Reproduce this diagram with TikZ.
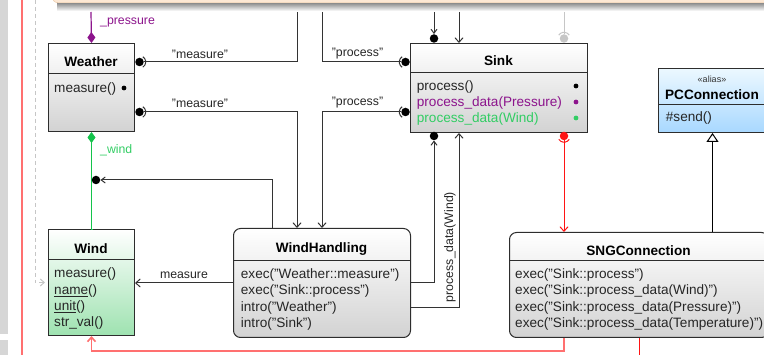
\documentclass[tikz,border=0pt]{standalone}
\usepackage{fontspec}
\setmainfont{Liberation Sans}
\usetikzlibrary{arrows.meta,calc,shapes.geometric}
\definecolor{pur}{RGB}{140,20,140}
\definecolor{grn}{RGB}{50,205,100}
\definecolor{grnline}{RGB}{20,195,75}
\definecolor{lred}{RGB}{255,112,112}
\definecolor{bred}{RGB}{255,20,20}
\definecolor{peach}{RGB}{253,232,212}
\definecolor{peachline}{RGB}{232,196,160}
\definecolor{boxline}{RGB}{45,45,45}
\definecolor{wgreen}{RGB}{158,226,176}
\definecolor{lblue}{RGB}{168,216,255}
\definecolor{tblue}{RGB}{236,248,255}
\definecolor{sidegray}{RGB}{214,214,214}
\tikzset{
  cls/.style={draw=boxline, line width=1pt, anchor=north west, inner sep=0pt, top color=white},
  divl/.style={draw=boxline, line width=1pt},
  ttl/.style={anchor=base, inner sep=0pt, font=\fontsize{13.6}{16}\selectfont\bfseries},
  mth/.style={anchor=base west, inner sep=0pt, font=\fontsize{13.6}{16}\selectfont, text=black!85},
  lbl/.style={anchor=base, inner sep=0pt, font=\fontsize{12.3}{14}\selectfont, text=black!85},
  conn/.style={draw=black!80, line width=1pt},
  arr/.style={conn, -{Straight Barb[length=4.5pt,width=8pt]}},
  ball/.style={circle, fill=black, inner sep=0pt, minimum size=8.5pt},
  sdot/.style={circle, fill, inner sep=0pt, minimum size=4.8pt},
}
\begin{document}
\begin{tikzpicture}[x=1pt,y=-1pt]
\useasboundingbox (0,0) rectangle (764,355);
% side decorations
\fill[sidegray] (0,0) rectangle (8,334);
\fill[sidegray] (0,340) rectangle (8,355);
\draw[lred, line width=1.6pt] (22,0) -- (22,355);

% top context box and shadow
\shade[top color=black!45, bottom color=white] (57,3) rectangle (764,11);
\node[draw=peachline, fill=peach, rounded corners=6pt, anchor=south west, minimum width=730pt, minimum height=30pt, inner sep=0pt] (ctx) at (52,3) {};

% ---------- classes ----------
\node[cls, bottom color=gray!35, minimum width=86pt, minimum height=88pt] (weather) at (48,43) {};
\draw[divl] ([yshift=-31pt]weather.north west) -- ([yshift=-31pt]weather.north east);
\node[ttl] (weatherT) at (91,66.9) {Weather};
\node[mth] (weatherM) at (54,92.5) {measure()};
\node[sdot] (weatherD) at (124,88) {};

\node[cls, bottom color=wgreen, minimum width=86pt, minimum height=106pt] (wind) at (48,229) {};
\draw[divl] ([yshift=-31pt]wind.north west) -- ([yshift=-31pt]wind.north east);
\node[ttl] (windT) at (91,253.2) {Wind};
\node[mth] (windM1) at (54,277.8) {measure()};
\node[mth] (windM2) at (54,294.2) {\underline{name}()};
\node[mth] (windM3) at (54,310.6) {\underline{unit}()};
\node[mth] (windM4) at (54,327.0) {str\_val()};

\node[cls, bottom color=gray!35, rounded corners=7pt, minimum width=177pt, minimum height=109pt] (windh) at (233,228) {};
\draw[divl] ([yshift=-33pt]windh.north west) -- ([yshift=-33pt]windh.north east);
\node[ttl] (windhT) at (321.5,252.2) {WindHandling};
\node[mth] (windhM1) at (240.7,278.5) {exec("Weather::measure")};
\node[mth] (windhM2) at (240.7,294.9) {exec("Sink::process")};
\node[mth] (windhM3) at (240.7,311.3) {intro("Weather")};
\node[mth] (windhM4) at (240.7,327.7) {intro("Sink")};

\node[cls, bottom color=gray!35, minimum width=177pt, minimum height=89pt] (sink) at (410,43) {};
\draw[divl] ([yshift=-30pt]sink.north west) -- ([yshift=-30pt]sink.north east);
\node[ttl] (sinkT) at (498.5,65.9) {Sink};
\node[mth] (sinkM1) at (416.7,90.5) {process()};
\node[mth, text=pur] (sinkM2) at (416.7,106.3) {process\_data(Pressure)};
\node[mth, text=grn] (sinkM3) at (416.7,122.1) {process\_data(Wind)};
\node[sdot, fill=black] (sinkD1) at (576,86) {};
\node[sdot, fill=pur] (sinkD2) at (576,102) {};
\node[sdot, fill=grn] (sinkD3) at (576,118) {};

\node[cls, bottom color=gray!35, rounded corners=7pt, minimum width=259pt, minimum height=105pt] (sng) at (509,232) {};
\draw[divl] ([yshift=-29pt]sng.north west) -- ([yshift=-29pt]sng.north east);
\node[ttl] (sngT) at (638.5,255.6) {SNGConnection};
\node[mth] (sngM1) at (515,278.5) {exec("Sink::process")};
\node[mth] (sngM2) at (515,294.9) {exec("Sink::process\_data(Wind)")};
\node[mth] (sngM3) at (515,311.3) {exec("Sink::process\_data(Pressure)")};
\node[mth] (sngM4) at (515,327.7) {exec("Sink::process\_data(Temperature)")};

\node[cls, top color=tblue, bottom color=lblue, minimum width=108pt, minimum height=64pt] (pcc) at (658,68) {};
\draw[divl] ([yshift=-37pt]pcc.north west) -- ([yshift=-37pt]pcc.north east);
\node[anchor=base, inner sep=0pt, font=\fontsize{9}{10}\selectfont, text=black!80] (pccS) at (712,82.2) {«alias»};
\node[ttl] (pccT) at (712,99.2) {PCConnection};
\node[mth] (pccM) at (665.7,121.8) {\#send()};

% ---------- connectors ----------
% dashed gray from left
\draw[gray!45, line width=1pt, dash pattern=on 4pt off 3pt, -{Straight Barb[length=4pt,width=7pt]}] (35,0) |- ([xshift=-3pt]wind.west);

% composition: pressure and wind
\coordinate (tP) at (91,12);
\draw[pur, line width=1.2pt, -{Diamond[length=11pt,width=8pt]}] (tP) -- (weather.north);
\node[anchor=base west, inner sep=0pt, font=\fontsize{12.3}{14}\selectfont, text=pur] (lp) at (100,25) {\_pressure};
\draw[grnline, line width=1.5pt, {Diamond[length=11pt,width=8pt]}-{Rectangle[length=0.1pt,width=1.5pt]}] (weather.south) -- (wind.north);
\node[anchor=base west, inner sep=0pt, font=\fontsize{12.3}{14}\selectfont, text=grn] (lw) at (100,154) {\_wind};

% balls
\node[ball] (wb1) at (139.5,62) {};
\node[ball] (wb2) at (139.5,112) {};
\node[ball] (sb1) at (405.5,62) {};
\node[ball] (sb2) at (405.5,112) {};
\node[ball] (stb) at (434,38.5) {};
\node[ball, fill=gray!45] (gtb) at (564,38.5) {};
\node[ball] (sbb) at (434,136) {};
\node[ball, fill=bred] (rb) at (564,136) {};
\node[ball] (gb) at (96,180) {};

% sockets
\draw[conn] (wb1.center) ++(-58:6.2) arc[start angle=-58, end angle=58, radius=6.2];
\draw[conn] (wb2.center) ++(-58:6.2) arc[start angle=-58, end angle=58, radius=6.2];
\draw[conn] (sb1.center) ++(122:6.2) arc[start angle=122, end angle=238, radius=6.2];
\draw[conn] (sb2.center) ++(122:6.2) arc[start angle=122, end angle=238, radius=6.2];
\draw[gray!45, line width=1pt] (gtb.center) ++(-148:6.2) arc[start angle=-148, end angle=-32, radius=6.2];
\draw[bred, line width=1pt] (rb.center) ++(32:6.2) arc[start angle=32, end angle=148, radius=6.2];

% top entries
\coordinate (tA) at (297,12);
\coordinate (tB) at (322,12);
\coordinate (tC) at (434,12);
\coordinate (tD) at (459,12);
\coordinate (tE) at (564,12);
\draw[conn] (wb1.east) -| (tA);
\node[lbl] (l1) at (200,58.6) {"measure"};
\draw[conn] (tB) |- (sb1.west);
\node[lbl] (l2) at (357.5,56.3) {"process"};
\draw[arr] (wb2.east) -| ([xshift=64pt]windh.north west);
\node[lbl] (l3) at (200,108) {"measure"};
\draw[arr] (sb2.west) -| ([xshift=89pt]windh.north west);
\node[lbl] (l4) at (357.5,106) {"process"};

\draw[conn, -{Straight Barb[length=4pt,width=6pt]}] (tC) -- (stb.north);
\draw[arr] (tD) -- ([xshift=49pt]sink.north west);
\draw[gray!45, line width=1pt] (tE) -- (gtb.north);

% WindHandling connections
\draw[conn, -{Straight Barb[length=4pt,width=6pt]}] ([xshift=39pt]windh.north west) |- (gb.east);
\draw[arr] (windh.west) -- (windh.west -| wind.east);
\node[lbl] (l5) at (184,279) {measure};
\draw[conn, -{Straight Barb[length=4pt,width=6pt]}] (windh.east) -| (sbb.south);
\draw[arr] ([yshift=-24.5pt]windh.east) -| ([xshift=49pt]sink.south west);
\node[lbl, anchor=center, rotate=90] (l6) at (450,247) {process\_data(Wind)};

% red connections
\draw[bred, line width=1pt, -{Straight Barb[length=4.5pt,width=8pt]}] (rb.south) -- (rb.south |- sng.north);
\draw[lred, line width=1.6pt, -{Straight Barb[length=4.5pt,width=8pt]}] ([xshift=55pt]sng.south west) -- ++(0,13) -| (wind.south);
\draw[bred, line width=1pt] (sng.south) -- ++(0,20);

% generalization
\draw[black, line width=1pt, -{Triangle[open, length=9pt, width=12pt]}] (sng.north -| pcc.south) -- (pcc.south);
\end{tikzpicture}
\end{document}
